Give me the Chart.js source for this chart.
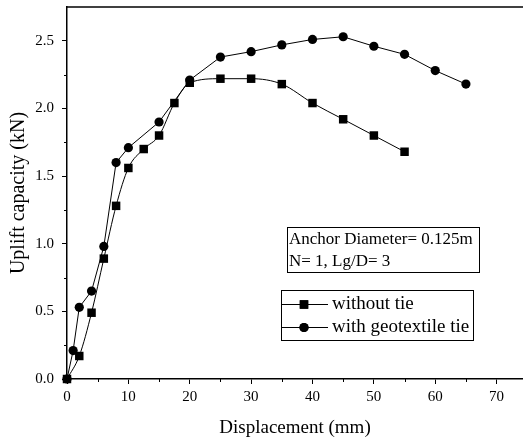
<!DOCTYPE html>
<html>
<head>
<meta charset="utf-8">
<title>Uplift capacity</title>
<script src="https://cdn.jsdelivr.net/npm/chart.js@4/dist/chart.umd.min.js"></script>
<style>
  body { margin: 0; background: #fff; }
  canvas { display: block; }
</style>
</head>
<body>
<canvas id="Graph" width="523" height="444"></canvas>
<script>
// data
var noTieX = [0, 2, 4, 6, 8, 10, 12.5, 15, 17.5, 20, 25, 30, 35, 40, 45, 50, 55];
var noTieY = [0, 0.17, 0.49, 0.89, 1.28, 1.56, 1.70, 1.80, 2.04, 2.19, 2.22, 2.22, 2.18, 2.04, 1.92, 1.80, 1.68];
var tieX = [0, 1, 2, 4, 6, 8, 10, 15, 20, 25, 30, 35, 40, 45, 50, 55, 60, 65];
var tieY = [0, 0.21, 0.53, 0.65, 0.98, 1.60, 1.71, 1.90, 2.21, 2.38, 2.42, 2.47, 2.51, 2.53, 2.46, 2.40, 2.28, 2.18];

var xTicks = [0, 10, 20, 30, 40, 50, 60, 70];
var xMinor = [5, 15, 25, 35, 45, 55, 65];
var yTicks = [0, 0.5, 1.0, 1.5, 2.0, 2.5];
var yMinor = [0.25, 0.75, 1.25, 1.75, 2.25];

var seriesNames = ['without tie', 'with geotextile tie'];
var noteLines = ['Anchor Diameter= 0.125m', 'N= 1, Lg/D= 3'];

var SERIF = '"Liberation Serif", "Times New Roman", serif';

function toPoints(xs, ys) {
  return xs.map(function (x, i) { return { x: x, y: ys[i] }; });
}

// top frame line, minor ticks, text box and legend box
var extras = {
  id: 'extras',
  afterDraw: function (chart) {
    var ctx = chart.ctx;
    var a = chart.chartArea;
    var xs = chart.scales.x, ys = chart.scales.y;
    ctx.save();
    ctx.strokeStyle = '#000';
    ctx.lineWidth = 1.5;
    ctx.beginPath();
    ctx.moveTo(a.left - 0.75, a.top);
    ctx.lineTo(chart.width, a.top);
    ctx.stroke();

    ctx.lineWidth = 1;
    ctx.beginPath();
    xMinor.forEach(function (v) {
      var px = Math.round(xs.getPixelForValue(v)) + 0.5;
      ctx.moveTo(px, a.bottom);
      ctx.lineTo(px, a.bottom + 3);
    });
    yMinor.forEach(function (v) {
      var py = Math.round(ys.getPixelForValue(v)) + 0.5;
      ctx.moveTo(a.left, py);
      ctx.lineTo(a.left - 3, py);
    });
    ctx.stroke();

    // note box
    ctx.fillStyle = '#000';
    ctx.textBaseline = 'middle';
    ctx.textAlign = 'left';
    ctx.font = '17px ' + SERIF;
    ctx.strokeRect(287.5, 227.5, 192, 45);
    ctx.fillText(noteLines[0], 289, 240);
    ctx.fillText(noteLines[1], 289, 262);

    // legend box
    ctx.strokeRect(281.5, 290.5, 192, 50);
    ctx.font = '19px ' + SERIF;
    var rows = [304, 327];
    chart.data.datasets.forEach(function (ds, i) {
      var y = rows[i];
      ctx.beginPath();
      ctx.moveTo(282, y + 0.5);
      ctx.lineTo(328, y + 0.5);
      ctx.stroke();
      Chart.helpers.drawPoint(ctx, {
        pointStyle: ds.pointStyle, radius: ds.pointRadius, rotation: 0, borderWidth: 0
      }, 304, y + 0.5);
      ctx.fill();
      ctx.fillText(ds.label, 332, y);
    });
    ctx.restore();
  }
};

var chart = new Chart(document.getElementById('Graph').getContext('2d'), {
  type: 'line',
  data: {
    datasets: [{
      label: seriesNames[0],
      data: toPoints(noTieX, noTieY),
      borderColor: '#000',
      backgroundColor: '#000',
      borderWidth: 1,
      pointStyle: 'rect',
      pointRadius: 6,
      pointBorderWidth: 0,
      cubicInterpolationMode: 'monotone',
      order: 1
    }, {
      label: seriesNames[1],
      data: toPoints(tieX, tieY),
      borderColor: '#000',
      backgroundColor: '#000',
      borderWidth: 1,
      pointStyle: 'circle',
      pointRadius: 4.6,
      pointBorderWidth: 0,
      tension: 0,
      order: 0
    }]
  },
  options: {
    responsive: false,
    animation: false,
    clip: false,
    layout: { autoPadding: false, padding: { top: 7, right: 0, left: 0, bottom: 0 } },
    plugins: { legend: { display: false }, tooltip: { enabled: false } },
    scales: {
      x: {
        type: 'linear',
        min: 0,
        max: 74.3,
        afterFit: function (s) { s.height = 65; s.paddingLeft = 0; s.paddingRight = 0; },
        afterBuildTicks: function (s) { s.ticks = xTicks.map(function (v) { return { value: v }; }); },
        grid: { drawOnChartArea: false, drawTicks: true, tickLength: 5, color: '#000', tickColor: '#000', tickWidth: 1 },
        border: { color: '#000', width: 1.5 },
        ticks: { color: '#000', padding: 4, maxRotation: 0, font: { family: SERIF, size: 15 } },
        title: { display: true, text: 'Displacement (mm)', color: '#000', padding: { bottom: 5 }, font: { family: SERIF, size: 19 } }
      },
      y: {
        type: 'linear',
        min: 0,
        max: 2.75,
        afterFit: function (s) { s.width = 67; s.paddingTop = 0; s.paddingBottom = 0; },
        afterBuildTicks: function (s) { s.ticks = yTicks.map(function (v) { return { value: v }; }); },
        grid: { drawOnChartArea: false, drawTicks: true, tickLength: 5, color: '#000', tickColor: '#000', tickWidth: 1 },
        border: { color: '#000', width: 1.5 },
        ticks: {
          color: '#000', padding: 8, font: { family: SERIF, size: 15 },
          callback: function (v) { return v.toFixed(1); }
        },
        title: { display: true, text: 'Uplift capacity (kN)', color: '#000', padding: { top: 7 }, font: { family: SERIF, size: 20 } }
      }
    }
  },
  plugins: [extras]
});
</script>
</body>
</html>
